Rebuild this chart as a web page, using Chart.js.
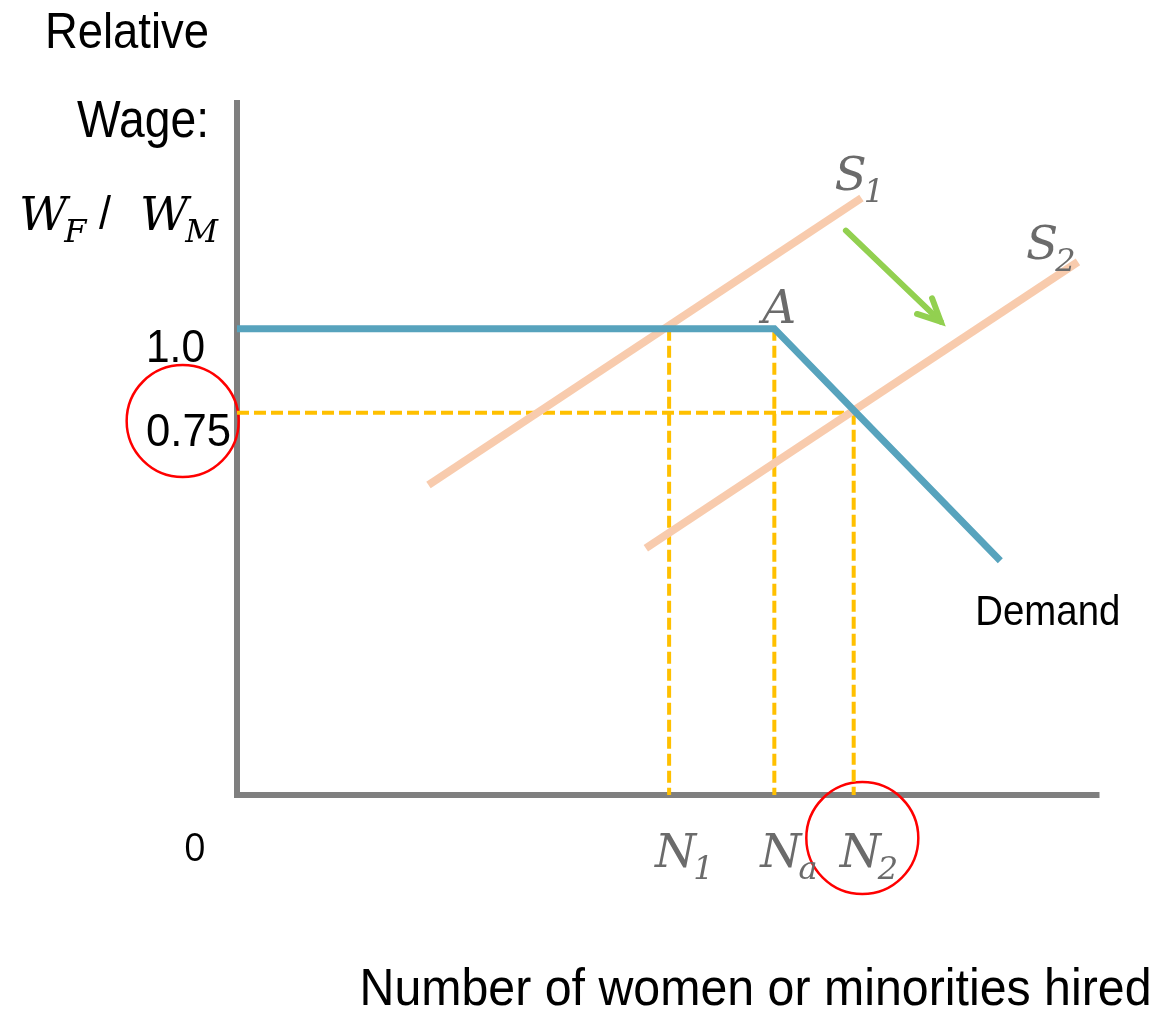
<!DOCTYPE html>
<html>
<head>
<meta charset="utf-8">
<title>Relative wage and hiring</title>
<script src="https://cdn.jsdelivr.net/npm/chart.js@4"></script>
<style>
  html, body { margin: 0; padding: 0; background: #fff; }
  canvas { display: block; }
</style>
</head>
<body>
<canvas id="myChart" width="1158" height="1009"></canvas>
<script>
// Diagram units: both axes run 0..100 from the origin to the end of each axis line.

// Demand: flat at the 1.0 wage up to point A, then falling
const demandX = [0, 62.3, 88.5];
const demandY = [67.1, 67.1, 33.7];

// Supply curves before and after the shift
const supply1X = [22.2, 72.4];
const supply1Y = [44.6, 85.9];
const supply2X = [47.4, 97.5];
const supply2Y = [35.5, 76.7];

// Green arrow showing the supply shift
const shiftX = [70.6, 81.6];
const shiftY = [81.2, 68.1];

// Wage levels (as drawn) and their tick labels
const wageLevels = [67.1, 55.0];
const wageLabels = ['1.0', '0.75'];

// Hiring levels and their labels: N1, Na, N2
const hireX = [50.1, 62.3, 71.5];
const hireTopY = [67.1, 67.1, 55.0];
const hireLabels = [['N', '1'], ['N', 'a'], ['N', '2']];

// Red highlight circles (around 0.75 and N2)
const circleX = [-6.3, 72.5];
const circleY = [53.8, -6.2];

const SANS = "'Liberation Sans', Arial, sans-serif";
const SERIF = "'DejaVu Serif', 'Liberation Serif', serif";
const LABEL_GREY = '#6b6b6b';

function points(xs, ys) {
    return xs.map((x, i) => ({ x: x, y: ys[i] }));
}

// yellow dashed guide lines
const guideStyle = {
    borderColor: '#ffc000',
    borderWidth: 4,
    borderDash: [12, 5],
    showLine: true,
    pointRadius: 0,
    clip: false
};
let guides = [];
guides.push(Object.assign({ data: [{ x: 0, y: wageLevels[1] }, { x: hireX[2], y: wageLevels[1] }] }, guideStyle));
for (let i = 0; i < hireX.length; i++) {
    guides.push(Object.assign({ data: [{ x: hireX[i], y: hireTopY[i] }, { x: hireX[i], y: 0 }] }, guideStyle));
}

// letter with a subscript (italic serif)
function drawSub(ctx, main, sub, x, y, size, color) {
    ctx.fillStyle = color;
    ctx.textAlign = 'left';
    ctx.font = 'italic ' + size + 'px ' + SERIF;
    ctx.fillText(main, x, y);
    let w = ctx.measureText(main).width;
    ctx.font = 'italic ' + Math.round(size * 0.68) + 'px ' + SERIF;
    ctx.fillText(sub, x + w - 3, y + 12);
}

// the original uses a narrow sans, so squeeze normal sans to the same width
function narrowText(ctx, text, x, y, size, width, align) {
    ctx.font = size + 'px ' + SANS;
    let w = ctx.measureText(text).width;
    ctx.save();
    ctx.translate(x, y);
    ctx.scale(width / w, 1);
    ctx.textAlign = align;
    ctx.fillStyle = '#000';
    ctx.fillText(text, 0, 0);
    ctx.restore();
}

const diagramPlugin = {
    id: 'diagramPlugin',
    beforeDatasetsDraw(chart) {
        const ctx = chart.ctx;
        const xs = chart.scales.x, ys = chart.scales.y;
        const ox = xs.getPixelForValue(0), oy = ys.getPixelForValue(0);
        ctx.save();
        ctx.strokeStyle = '#7f7f7f';
        ctx.lineWidth = 6;
        ctx.beginPath();
        ctx.moveTo(ox, ys.getPixelForValue(100));
        ctx.lineTo(ox, oy + 3);
        ctx.moveTo(ox, oy);
        ctx.lineTo(xs.getPixelForValue(100), oy);
        ctx.stroke();
        ctx.restore();
    },
    afterDatasetsDraw(chart) {
        const ctx = chart.ctx;
        const xs = chart.scales.x, ys = chart.scales.y;
        const ox = xs.getPixelForValue(0), oy = ys.getPixelForValue(0);
        ctx.save();

        // arrow head on the shift arrow
        const n = shiftX.length;
        const tx = xs.getPixelForValue(shiftX[n - 1]), ty = ys.getPixelForValue(shiftY[n - 1]);
        const fx = xs.getPixelForValue(shiftX[n - 2]), fy = ys.getPixelForValue(shiftY[n - 2]);
        const back = Math.atan2(fy - ty, fx - tx);
        ctx.strokeStyle = '#92d050';
        ctx.lineWidth = 6;
        ctx.lineCap = 'round';
        ctx.beginPath();
        ctx.moveTo(tx + 25 * Math.cos(back - 0.45), ty + 25 * Math.sin(back - 0.45));
        ctx.lineTo(tx, ty);
        ctx.lineTo(tx + 25 * Math.cos(back + 0.45), ty + 25 * Math.sin(back + 0.45));
        ctx.stroke();

        // curve labels
        const s1x = xs.getPixelForValue(supply1X[1]), s1y = ys.getPixelForValue(supply1Y[1]);
        drawSub(ctx, 'S', '1', s1x - 27, s1y - 8, 47, LABEL_GREY);
        const s2x = xs.getPixelForValue(supply2X[1]), s2y = ys.getPixelForValue(supply2Y[1]);
        drawSub(ctx, 'S', '2', s2x - 52, s2y - 3, 47, LABEL_GREY);

        ctx.fillStyle = LABEL_GREY;
        ctx.font = 'italic 47px ' + SERIF;
        ctx.textAlign = 'left';
        ctx.fillText('A', xs.getPixelForValue(demandX[1]) - 12, ys.getPixelForValue(demandY[1]) - 6);

        narrowText(ctx, 'Demand', xs.getPixelForValue(demandX[2]) - 25, ys.getPixelForValue(demandY[2]) + 64, 42, 145, 'left');

        // hiring labels under the x axis
        for (let i = 0; i < hireX.length; i++) {
            drawSub(ctx, hireLabels[i][0], hireLabels[i][1], xs.getPixelForValue(hireX[i]) - 14, oy + 72, 47, LABEL_GREY);
        }

        // wage tick labels
        const tickWidths = [59, 85];
        for (let i = 0; i < wageLevels.length; i++) {
            narrowText(ctx, wageLabels[i], ox - 91, ys.getPixelForValue(wageLevels[i]) + 33, 46, tickWidths[i], 'left');
        }

        // origin
        ctx.fillStyle = '#000';
        ctx.textAlign = 'left';
        ctx.font = "38px 'Open Sans', sans-serif";
        ctx.fillText('0', ox - 53, oy + 66);

        // y axis title
        narrowText(ctx, 'Relative', ox - 28, 48, 50, 164, 'right');
        narrowText(ctx, 'Wage:', ox - 28, 137, 51, 132, 'right');
        drawSub(ctx, 'W', 'F', 19, 230, 47, '#000');
        narrowText(ctx, '/', 99, 229, 46, 12, 'left');
        drawSub(ctx, 'W', 'M', 140, 230, 47, '#000');

        // x axis title
        narrowText(ctx, 'Number of women or minorities hired', xs.getPixelForValue(100) + 52, oy + 210, 52, 792, 'right');

        ctx.restore();
    }
};

const ctx = document.getElementById('myChart').getContext('2d');
const myChart = new Chart(ctx, {
    type: 'scatter',
    data: {
        datasets: [
            {
                label: 'Demand',
                data: points(demandX, demandY),
                borderColor: '#57a3bd',
                borderWidth: 7,
                showLine: true,
                pointRadius: 0,
                clip: false
            },
            {
                label: 'S1',
                data: points(supply1X, supply1Y),
                borderColor: '#f8cbad',
                borderWidth: 8,
                showLine: true,
                pointRadius: 0,
                clip: false
            },
            {
                label: 'S2',
                data: points(supply2X, supply2Y),
                borderColor: '#f8cbad',
                borderWidth: 8,
                showLine: true,
                pointRadius: 0,
                clip: false
            },
            {
                label: 'Shift',
                data: points(shiftX, shiftY),
                borderColor: '#92d050',
                borderWidth: 6,
                borderCapStyle: 'round',
                showLine: true,
                pointRadius: 0,
                clip: false
            },
            ...guides,
            {
                label: 'Highlights',
                data: points(circleX, circleY),
                pointStyle: 'circle',
                pointRadius: 56,
                pointBorderWidth: 2.5,
                pointBorderColor: '#ff0000',
                pointBackgroundColor: 'rgba(0,0,0,0)',
                showLine: false,
                clip: false
            }
        ]
    },
    options: {
        responsive: false,
        animation: false,
        devicePixelRatio: 1,
        layout: { padding: { left: 237, right: 53, top: 100, bottom: 214 } },
        plugins: {
            legend: { display: false },
            tooltip: { enabled: false }
        },
        scales: {
            x: { type: 'linear', min: 0, max: 100, display: false },
            y: { type: 'linear', min: 0, max: 100, display: false }
        }
    },
    plugins: [diagramPlugin]
});
</script>
</body>
</html>
